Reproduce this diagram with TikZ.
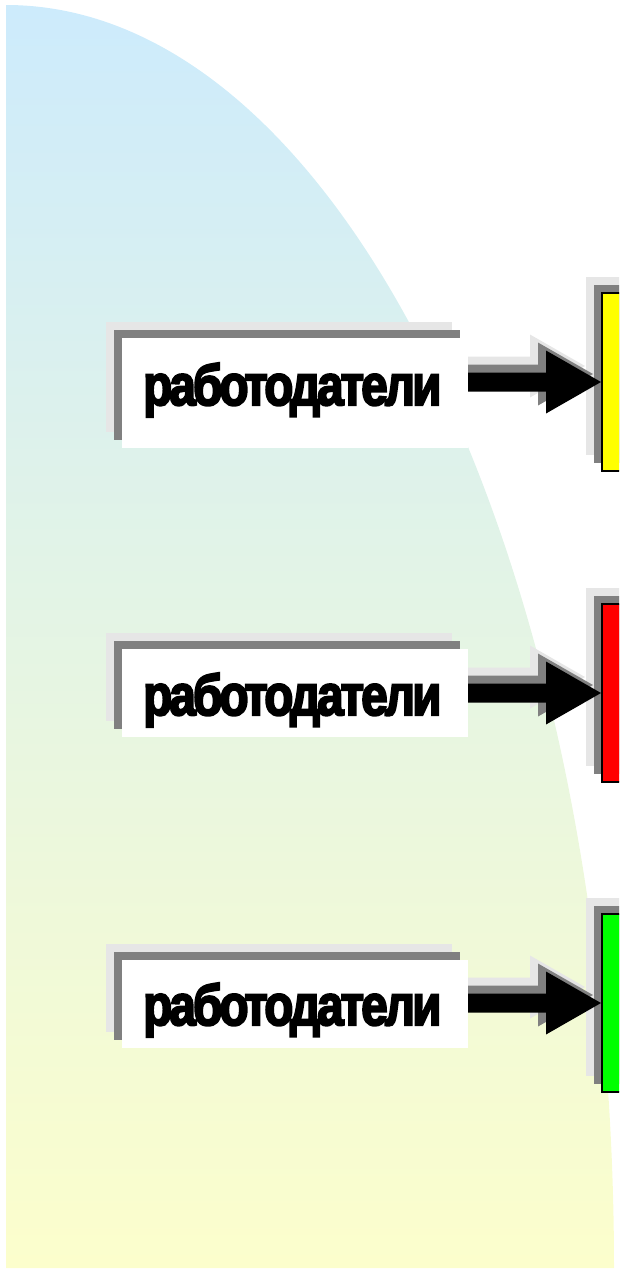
\documentclass[tikz,border=0pt]{standalone}
\usepackage{fontspec}
\usetikzlibrary{shadows,calc}
\newfontfamily\labfont{Liberation Sans}[BoldFeatures={FakeBold=4,LetterSpace=-6}]
\definecolor{bgtop}{HTML}{CDEBFC}
\definecolor{bgbot}{HTML}{FCFECC}
\definecolor{shdark}{HTML}{808080}
\definecolor{shlight}{HTML}{E6E6E6}
\definecolor{boxyellow}{HTML}{FFFF00}
\definecolor{boxred}{HTML}{FF0000}
\definecolor{boxgreen}{HTML}{00FF00}
\tikzset{
  lshadow/.style={general shadow={shadow xshift=-16pt,shadow yshift=16pt,fill=shlight,draw=none}},
  dshadow/.style={general shadow={shadow xshift=-8pt,shadow yshift=8pt,fill=shdark,draw=none}},
  layered/.style={lshadow,dshadow},
  leftbox/.style={layered,fill=white,draw=none,inner sep=0pt,minimum width=346pt},
  rightbox/.style={layered,draw=black,line width=2pt,inner sep=0pt,minimum width=60pt,minimum height=178pt},
  lbltext/.style={inner sep=0pt,anchor=base west,font=\labfont\bfseries},
  blockarrow/.style={layered,fill=black,draw=none}
}
\newcommand\blkarrow[2]{%
  \fill[blockarrow] let \p1=(#1.east |- #2.west), \p2=(#2.west) in
    (\x1,\y2+9.5pt) -- (\x2-55pt,\y2+9.5pt) -- (\x2-55pt,\y2+31.5pt) -- (\x2,\y2)
    -- (\x2-55pt,\y2-31.5pt) -- (\x2-55pt,\y2-9.5pt) -- (\x1,\y2-9.5pt) -- cycle;}
\begin{document}
\begin{tikzpicture}[x=1pt,y=-1pt]
\useasboundingbox (0,0) rectangle (619,1272);
\clip (0,0) rectangle (619,1272);
% background
\shade[top color=bgtop,bottom color=bgbot] (6,1268) -- (6,5)
  arc[start angle=-90,end angle=0,x radius=608,y radius=1263] -- cycle;
% right boxes
\node[rightbox,fill=boxyellow] (R1) at (632,382) {};
\node[rightbox,fill=boxred] (R2) at (632,693) {};
\node[rightbox,fill=boxgreen] (R3) at (632,1003) {};
% left boxes
\node[leftbox,minimum height=110pt] (L1) at (295,393) {};
\node[leftbox,minimum height=88pt] (L2) at (295,693) {};
\node[leftbox,minimum height=88pt] (L3) at (295,1004) {};
% arrows
\blkarrow{L1}{R1}
\blkarrow{L2}{R2}
\blkarrow{L3}{R3}
% redraw white fronts over arrow shadows
\fill[white] (L1.north west) rectangle (L1.south east);
\fill[white] (L2.north west) rectangle (L2.south east);
\fill[white] (L3.north west) rectangle (L3.south east);
% texts
\node[lbltext] (T1) at (143,405) {\resizebox{298pt}{42pt}{работодатели}};
\node[lbltext] (T2) at (143,715) {\resizebox{298pt}{42pt}{работодатели}};
\node[lbltext] (T3) at (143,1025) {\resizebox{298pt}{42pt}{работодатели}};
\end{tikzpicture}
\end{document}
